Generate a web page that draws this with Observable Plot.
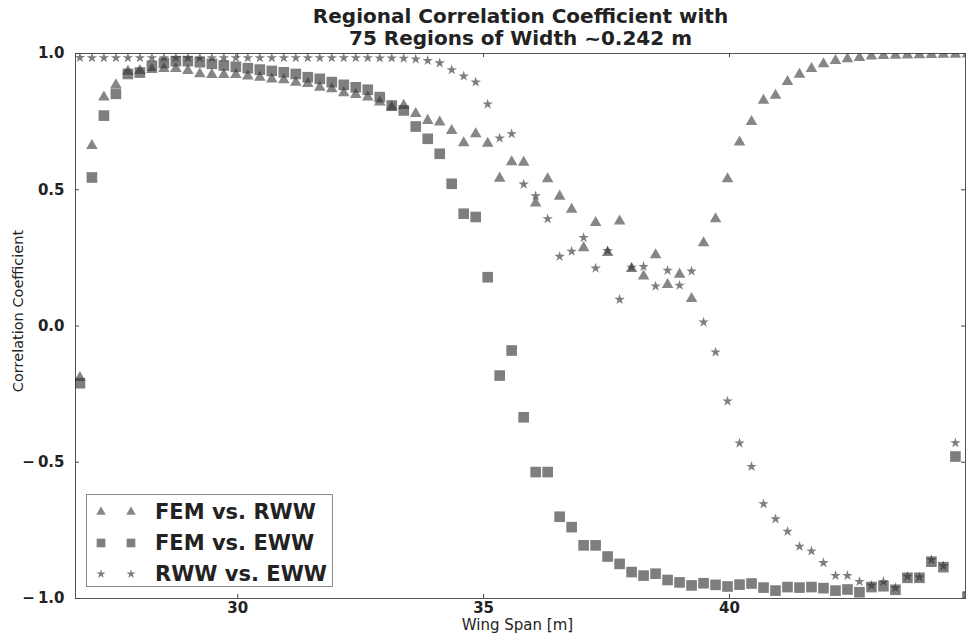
<!DOCTYPE html>
<html>
<head>
<meta charset="utf-8">
<script src="https://cdn.jsdelivr.net/npm/d3@7"></script>
<script src="https://cdn.jsdelivr.net/npm/@observablehq/plot@0.6"></script>
<style>
  body { margin: 0; background: #fff; }
  #chart { position: relative; width: 966px; height: 638px; font-family: "DejaVu Sans", sans-serif; }
  .legend { position: absolute; left: 86px; top: 494px; width: 247px; height: 93px;
            box-sizing: border-box; border: 1px solid #8a8a8a; background: #fff; }
  .legend .row { position: absolute; left: 0; height: 24px; width: 100%; }
  .legend svg { position: absolute; left: 0; top: 0; }
  .legend span { position: absolute; left: 68px; top: 50%; transform: translateY(-50%);
                 font: bold 21px "DejaVu Sans", sans-serif; color: #222; white-space: nowrap; }
</style>
</head>
<body>
<div id="chart"></div>
<script>
// Regional correlation between the three wing models, 75 spanwise regions.
const regionWidth = 0.2439;   // metres per region (~0.242 m)
const spanStart = 26.79;      // centre of the first region [m]

const femVsRww = [
  -0.19, 0.662, 0.84, 0.885, 0.934, 0.937, 0.941, 0.944, 0.944, 0.937,
  0.925, 0.922, 0.922, 0.922, 0.917, 0.912, 0.906, 0.903, 0.894, 0.889,
  0.876, 0.87, 0.855, 0.849, 0.84, 0.821, 0.803, 0.809, 0.779, 0.754,
  0.748, 0.717, 0.672, 0.705, 0.67, 0.542, 0.602, 0.6, 0.451, 0.54,
  0.476, 0.428, 0.287, 0.379, 0.269, 0.385, 0.21, 0.183, 0.261, 0.152,
  0.189, 0.1, 0.305, 0.393, 0.54, 0.675, 0.75, 0.828, 0.846, 0.897,
  0.923, 0.944, 0.962, 0.974, 0.98, 0.985, 0.99, 0.992, 0.993, 0.994,
  0.995, 0.996, 0.997, 0.997, 0.998
];

const femVsEww = [
  -0.21, 0.545, 0.772, 0.852, 0.925, 0.93, 0.955, 0.965, 0.972, 0.972,
  0.968, 0.962, 0.956, 0.951, 0.946, 0.941, 0.936, 0.931, 0.925, 0.913,
  0.907, 0.895, 0.885, 0.876, 0.867, 0.84, 0.809, 0.791, 0.732, 0.687,
  0.632, 0.522, 0.412, 0.4, 0.179, -0.182, -0.09, -0.335, -0.536, -0.536,
  -0.7, -0.738, -0.805, -0.805, -0.846, -0.873, -0.903, -0.916, -0.909, -0.932,
  -0.941, -0.952, -0.944, -0.95, -0.956, -0.949, -0.945, -0.96, -0.971, -0.958,
  -0.96, -0.958, -0.962, -0.971, -0.967, -0.977, -0.958, -0.955, -0.968, -0.924,
  -0.924, -0.865, -0.885, -0.479, -0.995
];

const rwwVsEww = [
  0.985, 0.984, 0.984, 0.984, 0.984, 0.984, 0.984, 0.984, 0.984, 0.984,
  0.984, 0.984, 0.984, 0.984, 0.984, 0.984, 0.984, 0.984, 0.984, 0.984,
  0.984, 0.984, 0.984, 0.984, 0.984, 0.983, 0.983, 0.982, 0.979, 0.974,
  0.965, 0.94, 0.917, 0.895, 0.814, 0.689, 0.705, 0.52, 0.477, 0.393,
  0.255, 0.274, 0.324, 0.212, 0.276, 0.097, 0.215, 0.218, 0.146, 0.204,
  0.149, 0.201, 0.014, -0.096, -0.276, -0.43, -0.516, -0.653, -0.708, -0.754,
  -0.809, -0.826, -0.869, -0.916, -0.916, -0.938, -0.952, -0.938, -0.961, -0.919,
  -0.922, -0.858, -0.881, -0.429, -0.98
];

const seriesNames = ["FEM vs. RWW", "FEM vs. EWW", "RWW vs. EWW"];
const yTicks = [-1, -0.5, 0, 0.5, 1];
const xTicks = [30, 35, 40];
const xDomain = [26.7, 44.8];

const titleText = "Regional Correlation Coefficient with\n75 Regions of Width ~0.242 m";
const xLabel = "Wing Span [m]";
const yLabel = "Correlation Coefficient";

// Marker styling per series: symbol, radius, opacity
const markerStyle = [
  {symbol: "triangle", r: 4.3, opacity: 0.58},
  {symbol: "square", r: 6.0, opacity: 0.62},
  {symbol: "star", r: 3.3, opacity: 0.62}
];
const markerInk = "#2e2e2e";

const series = [femVsRww, femVsEww, rwwVsEww];
const rows = series.flatMap((values, k) =>
  values.map((v, i) => ({series: seriesNames[k], span: spanStart + i * regionWidth, r: v}))
);

const fmt = d => (d < 0 ? "\u2212\u2009" : "") + Math.abs(d).toFixed(1);

const dotMarks = seriesNames.map((name, k) =>
  Plot.dot(rows.filter(d => d.series === name), {
    x: "span", y: "r",
    symbol: () => markerStyle[k].symbol,
    r: markerStyle[k].r,
    fill: markerInk,
    fillOpacity: markerStyle[k].opacity,
    stroke: "none",
    clip: true
  })
);

const chart = Plot.plot({
  width: 966,
  height: 638,
  marginLeft: 75,
  marginRight: 1,
  marginTop: 53,
  marginBottom: 40,
  style: {fontFamily: "DejaVu Sans, sans-serif", background: "#fff", overflow: "visible"},
  x: {domain: xDomain, axis: null},
  y: {domain: [-1, 1], axis: null},
  symbol: {type: "identity"},
  marks: [
    Plot.frame({stroke: "#555", strokeWidth: 1}),
    // inward tick marks on all four sides
    Plot.ruleX(xTicks, {x: d => d, y1: -1, y2: -0.985, stroke: "#444"}),
    Plot.ruleX(xTicks, {x: d => d, y1: 1, y2: 0.985, stroke: "#444"}),
    Plot.ruleY(yTicks, {y: d => d, x1: xDomain[0], x2: xDomain[0] + 0.08, stroke: "#444"}),
    Plot.ruleY(yTicks, {y: d => d, x1: xDomain[1], x2: xDomain[1] - 0.08, stroke: "#444"}),
    ...dotMarks,
    // tick labels
    Plot.text(xTicks, {x: d => d, frameAnchor: "bottom", dy: 14, text: d => String(d),
      fontWeight: "bold", fontSize: 15, fill: "#222"}),
    Plot.text(yTicks, {y: d => d, frameAnchor: "left", dx: -11, textAnchor: "end", text: fmt,
      fontWeight: "bold", fontSize: 15, fill: "#222"}),
    // axis titles
    Plot.text([xLabel], {frameAnchor: "bottom", dx: -3, dy: 31, fontSize: 15, fill: "#222"}),
    Plot.text([yLabel], {frameAnchor: "left", textAnchor: "middle", dx: -57, dy: -15, rotate: -90,
      fontSize: 14.5, fill: "#222"}),
    // chart title
    Plot.text([titleText], {frameAnchor: "top", dy: -27, lineAnchor: "middle", lineHeight: 1.1,
      fontWeight: "bold", fontSize: 20, fill: "#222"})
  ]
});

const root = document.getElementById("chart");
root.appendChild(chart);

// Legend: two sample markers per entry, then the label
const legend = document.createElement("div");
legend.className = "legend";
const d3Symbols = [d3.symbolTriangle, d3.symbolSquare, d3.symbolStar];
const legendSizes = [40, 75, 26];
const rowCentres = [17, 48, 79];
seriesNames.forEach((name, k) => {
  const row = document.createElement("div");
  row.className = "row";
  row.style.top = (rowCentres[k] - 12) + "px";
  const svg = d3.create("svg").attr("width", 60).attr("height", 24);
  for (const cx of [14, 44]) {
    svg.append("path")
      .attr("transform", `translate(${cx},12)`)
      .attr("d", d3.symbol(d3Symbols[k], legendSizes[k])())
      .attr("fill", markerInk)
      .attr("fill-opacity", markerStyle[k].opacity);
  }
  row.appendChild(svg.node());
  const label = document.createElement("span");
  label.textContent = name;
  row.appendChild(label);
  legend.appendChild(row);
});
root.appendChild(legend);
</script>
</body>
</html>
